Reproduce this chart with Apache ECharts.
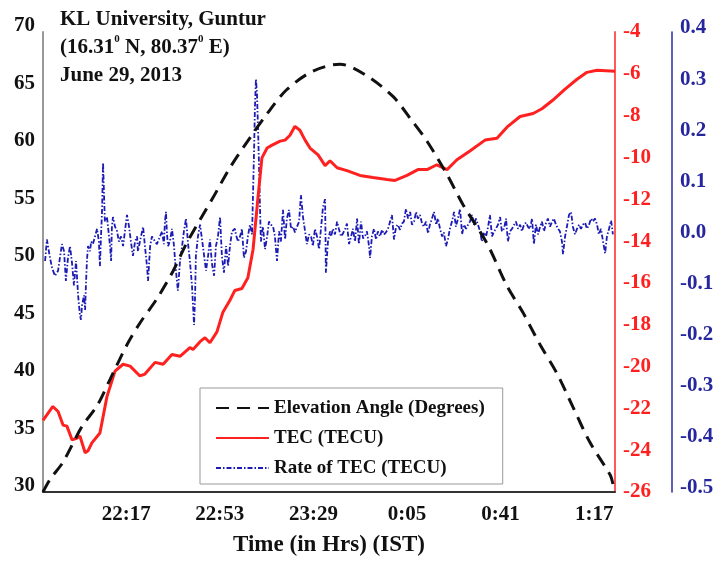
<!DOCTYPE html>
<html>
<head>
<meta charset="utf-8">
<script src="https://cdn.jsdelivr.net/npm/echarts@6/dist/echarts.min.js"></script>
<style>
    html, body { margin: 0; padding: 0; background: #fff; }
    #tec-chart { width: 717px; height: 562px; }
</style>
</head>
<body>
<div id="tec-chart"></div>
<script>
// time is minutes after 21:45 IST
const tickTimes = [32, 68, 104, 140, 176, 212]
const tickLabels = ['22:17', '22:53', '23:29', '0:05', '0:41', '1:17']

// elevation angle (degrees)
const elevation = [
    [0, 30.0], [2.7, 31.1], [7.7, 32.6], [15.0, 35.7], [20.8, 37.5], [25.8, 39.8],
    [32.3, 42.8], [37.3, 44.7], [43.8, 46.8], [50.0, 49.2], [55.4, 51.7], [65.4, 55.6],
    [71.9, 58.2], [79.6, 60.8], [86.2, 62.9], [93.8, 65.0], [103.8, 66.6], [114.2, 67.2],
    [123.8, 66.3], [134.6, 64.4], [141.2, 62.5], [147.7, 60.5], [155.4, 57.6], [161.5, 55.0],
    [170.8, 51.6], [178.5, 47.9], [184.6, 45.6], [191.2, 42.8], [197.7, 40.3], [203.8, 37.4],
    [210.4, 34.3], [218.1, 31.5], [219.2, 30.7]
]

// TEC (TECU)
const tec = [
    [0, -22.57], [3.8, -21.91], [5.8, -22.15], [7.7, -22.80], [9.2, -22.85], [11.2, -23.51],
    [13.1, -23.42], [14.2, -23.32], [16.2, -24.12], [17.3, -24.03], [18.8, -23.65], [21.9, -23.18],
    [24.6, -21.44], [27.7, -20.22], [30.8, -19.89], [33.5, -19.98], [37.3, -20.45], [39.2, -20.36],
    [43.1, -19.80], [46.2, -19.89], [49.6, -19.42], [52.7, -19.51], [56.5, -19.09], [57.7, -19.18],
    [60.4, -18.81], [62.3, -18.62], [64.2, -18.86], [66.9, -18.34], [69.2, -17.40], [71.9, -16.83],
    [73.8, -16.36], [76.5, -16.27], [78.8, -15.75], [80.8, -14.39], [82.7, -11.90], [84.2, -10.02],
    [86.2, -9.55], [88.1, -9.41], [91.2, -9.22], [93.1, -9.17], [95.0, -8.94], [96.9, -8.51],
    [98.8, -8.70], [100.8, -9.17], [102.7, -9.55], [105.8, -9.88], [108.5, -10.39], [110.4, -10.16],
    [113.1, -10.49], [116.9, -10.63], [121.9, -10.86], [126.9, -10.96], [132.3, -11.05], [135.4, -11.10],
    [140.0, -10.86], [144.2, -10.58], [147.7, -10.58], [151.5, -10.35], [155.4, -10.58], [159.2, -10.11],
    [164.2, -9.69], [170.0, -9.17], [174.6, -9.08], [178.8, -8.51], [183.5, -8.04], [188.5, -7.90],
    [191.9, -7.67], [195.8, -7.29], [200.8, -6.73], [205.4, -6.26], [209.2, -5.93], [213.1, -5.83],
    [220, -5.88]
]

// rate of TEC (TECU)
const rateOfTec = [
    [0.8, -0.048], [1.5, -0.006], [2.7, -0.042], [3.5, -0.062], [4.6, -0.077], [5.8, -0.067],
    [6.5, -0.042], [7.3, -0.015], [8.1, -0.029], [8.8, -0.087], [9.6, -0.042], [10.4, -0.019],
    [11.2, -0.054], [11.9, -0.096], [12.7, -0.048], [13.5, -0.115], [14.2, -0.154], [14.6, -0.163],
    [15.0, -0.135], [15.8, -0.115], [16.2, -0.144], [16.5, -0.096], [16.9, -0.048], [17.3, -0.019],
    [18.1, -0.029], [18.5, -0.010], [19.2, -0.015], [20.0, 0.000], [20.8, 0.015], [21.5, -0.010],
    [21.9, -0.058], [22.3, 0.000], [22.7, 0.048], [23.1, 0.144], [23.5, 0.077], [23.8, 0.029],
    [24.6, 0.038], [25.0, 0.019], [25.4, 0.000], [25.8, -0.019], [26.2, -0.048], [26.5, 0.019],
    [26.9, 0.038], [27.7, 0.019], [28.5, 0.010], [29.2, -0.010], [30.0, 0.000], [30.8, -0.019],
    [31.5, 0.010], [32.3, 0.042], [33.1, 0.019], [33.8, -0.010], [34.6, -0.038], [35.4, -0.010],
    [36.2, 0.000], [36.5, -0.029], [37.7, 0.000], [38.5, 0.019], [39.2, -0.019], [40.0, -0.058],
    [40.4, -0.087], [41.2, -0.019], [41.9, 0.000], [43.1, -0.010], [43.8, -0.015], [45.0, 0.000],
    [45.8, 0.010], [46.5, -0.015], [46.9, 0.029], [47.3, 0.048], [47.7, 0.004], [48.1, -0.019],
    [48.8, -0.010], [49.6, 0.015], [50.4, -0.019], [50.8, -0.048], [51.5, -0.087], [51.9, -0.106],
    [52.7, -0.048], [53.5, -0.019], [54.2, 0.010], [55.0, 0.035], [55.8, -0.015], [56.5, -0.048],
    [57.3, -0.096], [57.7, -0.135], [58.1, -0.173], [58.5, -0.115], [58.8, -0.038], [59.6, 0.000],
    [60.4, 0.023], [61.5, -0.019], [62.7, -0.067], [63.5, -0.038], [64.2, -0.006], [65.0, -0.054],
    [65.8, -0.077], [66.5, -0.019], [67.3, 0.000], [68.1, 0.038], [68.8, -0.038], [69.6, -0.071],
    [70.4, -0.019], [71.2, -0.058], [71.9, -0.019], [72.7, 0.010], [73.8, 0.015], [74.2, 0.004],
    [75.0, -0.010], [75.8, 0.000], [76.5, 0.015], [77.3, -0.042], [78.1, -0.029], [78.8, 0.000],
    [79.6, 0.023], [80.4, 0.004], [81.2, 0.173], [81.5, 0.250], [81.9, 0.308], [82.3, 0.279],
    [82.7, 0.212], [83.1, 0.135], [83.5, 0.048], [83.8, -0.010], [84.6, 0.019], [85.4, -0.025],
    [86.2, 0.000], [86.9, 0.029], [87.7, 0.023], [88.5, 0.019], [89.2, 0.000], [90.0, -0.048],
    [90.8, 0.010], [91.5, -0.010], [92.3, 0.052], [93.1, -0.006], [93.8, 0.035], [94.6, 0.052],
    [95.4, 0.015], [96.2, 0.019], [96.9, 0.008], [97.7, 0.019], [98.5, 0.029], [99.2, 0.081],
    [100.0, 0.038], [100.8, 0.010], [101.5, -0.015], [102.3, 0.004], [103.1, 0.000], [103.8, -0.019],
    [104.6, 0.015], [105.4, 0.000], [106.2, -0.025], [106.9, 0.015], [107.7, 0.058], [108.5, 0.073],
    [108.8, -0.071], [109.6, -0.010], [110.4, 0.010], [110.8, 0.000], [111.5, 0.015], [112.3, 0.004],
    [113.1, 0.029], [113.8, 0.015], [114.6, 0.000], [115.4, 0.006], [116.2, 0.015], [116.9, 0.025],
    [117.7, -0.015], [118.5, 0.000], [119.2, 0.015], [120.0, -0.010], [120.8, 0.035], [121.5, -0.015],
    [122.3, 0.029], [123.1, -0.004], [123.8, 0.000], [124.6, 0.010], [125.4, -0.019], [125.8, -0.042],
    [126.5, 0.000], [127.3, 0.015], [128.1, -0.006], [128.8, 0.010], [129.6, 0.000], [130.4, 0.013],
    [131.2, 0.004], [131.9, 0.008], [132.7, 0.015], [133.5, 0.029], [134.2, 0.042], [135.0, -0.006],
    [135.8, 0.019], [136.5, 0.023], [137.3, 0.013], [138.1, 0.025], [138.8, 0.029], [139.6, 0.054],
    [140.4, 0.035], [141.2, 0.048], [141.9, 0.023], [142.7, 0.029], [143.5, 0.048], [144.2, 0.035],
    [145.0, 0.042], [145.8, 0.025], [146.5, 0.019], [147.3, 0.029], [148.1, 0.006], [148.8, 0.023],
    [149.6, 0.035], [150.4, 0.048], [151.2, 0.023], [151.9, 0.035], [152.7, 0.015], [153.5, 0.000],
    [154.2, 0.008], [155.0, -0.019], [155.8, -0.004], [156.5, 0.015], [157.3, 0.029], [158.1, 0.048],
    [158.8, 0.019], [159.6, 0.035], [160.4, 0.054], [161.2, 0.004], [161.9, 0.023], [162.7, 0.015],
    [163.5, 0.023], [164.2, 0.029], [165.0, 0.042], [165.8, 0.023], [166.5, 0.035], [167.3, 0.023],
    [168.1, 0.010], [168.8, -0.010], [169.6, 0.008], [170.4, 0.000], [171.2, 0.019], [171.9, 0.042],
    [172.7, 0.000], [173.5, 0.010], [174.2, 0.015], [175.0, 0.023], [175.8, 0.038], [176.5, 0.010],
    [177.3, 0.015], [178.1, 0.035], [178.8, -0.010], [179.6, 0.010], [180.4, 0.015], [181.2, 0.023],
    [181.9, 0.029], [182.7, 0.015], [183.5, 0.023], [184.2, 0.010], [185.0, 0.023], [185.8, 0.027],
    [186.5, 0.019], [187.3, 0.015], [188.1, 0.035], [188.8, -0.015], [189.6, 0.023], [190.4, 0.004],
    [191.2, 0.019], [191.9, 0.029], [192.7, 0.010], [193.5, 0.027], [194.2, 0.035], [195.0, 0.019],
    [195.8, 0.029], [196.5, 0.035], [197.3, 0.023], [198.1, 0.015], [198.8, 0.010], [199.6, -0.010],
    [200.0, -0.035], [200.8, 0.000], [201.5, 0.019], [202.3, 0.042], [203.1, 0.048], [203.8, 0.019],
    [204.6, 0.004], [205.4, 0.015], [206.2, 0.023], [206.9, 0.015], [207.7, 0.023], [208.5, 0.027],
    [209.2, 0.015], [210.0, 0.023], [210.8, 0.035], [211.5, 0.029], [212.3, 0.035], [213.1, 0.023],
    [213.8, 0.004], [214.6, 0.015], [215.4, -0.010], [216.2, -0.033], [216.9, 0.000], [217.7, 0.015],
    [218.5, 0.031], [219.2, 0.004]
]

const serif = '"Liberation Serif", "Times New Roman", serif'
const labelFont = { fontFamily: serif, fontWeight: 'bold', fontSize: 21 }

let myChart = echarts.init(document.getElementById('tec-chart'))

let option = {
    animation: false,
    title: {
        text: 'KL University, Guntur\n(16.31{s|0} N, 80.37{s|0} E)\nJune 29, 2013',
        left: 60,
        top: 6,
        padding: 0,
        textStyle: {
            fontFamily: serif,
            fontWeight: 'bold',
            fontSize: 21,
            lineHeight: 28,
            color: '#111',
            rich: {
                s: { fontFamily: serif, fontWeight: 'bold', fontSize: 11, lineHeight: 14, verticalAlign: 'top', color: '#111' }
            }
        }
    },
    legend: {
        orient: 'vertical',
        left: 200,
        top: 388,
        padding: [10, 18, 6, 15],
        itemWidth: 53,
        itemHeight: 14,
        itemGap: 10,
        borderColor: '#999',
        borderWidth: 1,
        backgroundColor: '#fff',
        itemStyle: { opacity: 0 },
        data: ['Elevation Angle (Degrees)', 'TEC (TECU)', 'Rate of TEC (TECU)'],
        textStyle: { fontFamily: serif, fontWeight: 'bold', fontSize: 19, lineHeight: 20, color: '#111' }
    },
    grid: { left: 43, right: 102, top: 32, bottom: 62 },
    xAxis: {
        type: 'value',
        min: 0,
        max: 220,
        name: 'Time (in Hrs) (IST)',
        nameLocation: 'middle',
        nameGap: 42,
        nameTextStyle: { fontFamily: serif, fontWeight: 'bold', fontSize: 23, color: '#111' },
        axisLine: { onZero: false, lineStyle: { color: '#333', width: 2 } },
        axisTick: { show: false },
        splitLine: { show: false },
        axisLabel: Object.assign({}, labelFont, {
            color: '#111',
            margin: 12,
            customValues: tickTimes,
            formatter: v => tickLabels[tickTimes.indexOf(v)]
        })
    },
    yAxis: [
        {
            type: 'value',
            position: 'left',
            min: 30,
            max: 70,
            interval: 5,
            axisLine: { show: true, lineStyle: { color: '#999', width: 2 } },
            axisTick: { show: false },
            splitLine: { show: false },
            axisLabel: Object.assign({}, labelFont, { color: '#111', margin: 8, verticalAlign: 'bottom', lineHeight: 12 })
        },
        {
            type: 'value',
            position: 'right',
            min: -26,
            max: -4,
            interval: 2,
            axisLine: { show: true, lineStyle: { color: '#ff5a5a', width: 2 } },
            axisTick: { show: false },
            splitLine: { show: false },
            axisLabel: Object.assign({}, labelFont, { color: '#ff1f1f', margin: 8 })
        },
        {
            type: 'value',
            position: 'right',
            offset: 57,
            min: -0.5,
            max: 0.4,
            interval: 0.1,
            axisLine: { show: true, lineStyle: { color: '#2a2aa0', width: 1.5 } },
            axisTick: { show: false },
            splitLine: { show: false },
            axisLabel: Object.assign({}, labelFont, {
                color: '#26269e',
                margin: 8,
                verticalAlign: 'bottom',
                lineHeight: 8,
                formatter: v => v.toFixed(1)
            })
        }
    ],
    series: [
        {
            name: 'Rate of TEC (TECU)',
            type: 'line',
            yAxisIndex: 2,
            symbol: 'none',
            data: rateOfTec,
            lineStyle: { color: '#1c1cb4', width: 1.8, type: [5, 2, 1.5, 2] },
            itemStyle: { color: '#1c1cb4' }
        },
        {
            name: 'TEC (TECU)',
            type: 'line',
            yAxisIndex: 1,
            symbol: 'none',
            data: tec,
            lineStyle: { color: '#ff2020', width: 3 },
            itemStyle: { color: '#ff2020' }
        },
        {
            name: 'Elevation Angle (Degrees)',
            type: 'line',
            yAxisIndex: 0,
            symbol: 'none',
            smooth: 0.3,
            data: elevation,
            lineStyle: { color: '#111', width: 3, type: [13, 8] },
            itemStyle: { color: '#111' }
        }
    ]
}
myChart.setOption(option)

window.addEventListener('resize', () => {
    myChart.resize()
})
</script>
</body>
</html>
